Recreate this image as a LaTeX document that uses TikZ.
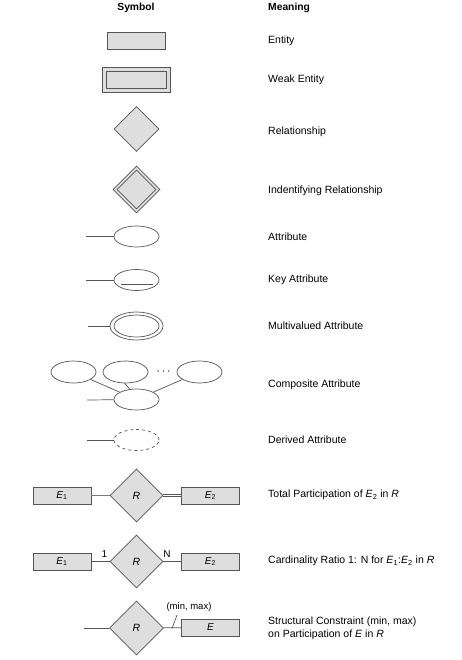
\documentclass[tikz,border=0pt]{standalone}
\usepackage{fontspec}
\setmainfont{Liberation Sans}
\usetikzlibrary{shapes.geometric}
\definecolor{fillgray}{RGB}{222,222,222}
\definecolor{strokegray}{RGB}{85,85,85}
\definecolor{linegray}{RGB}{120,120,120}
\tikzset{
  ent/.style={draw=strokegray, fill=fillgray, line width=0.9pt, minimum width=58pt, minimum height=17pt, inner sep=0pt, font=\fontsize{10}{12}\selectfont},
  rel/.style={diamond, draw=strokegray, fill=fillgray, line width=0.8pt, minimum width=#1, minimum height=#1, inner sep=0pt, font=\fontsize{10.5}{12}\selectfont},
  att/.style={ellipse, draw=strokegray, line width=0.7pt, minimum width=45pt, minimum height=21pt, inner sep=0pt},
  conn/.style={draw=strokegray, line width=0.7pt},
  meaning/.style={anchor=west, inner sep=0pt, font=\fontsize{10.5}{12.5}\selectfont, align=left},
  head/.style={inner sep=0pt, font=\fontsize{10.3}{12}\selectfont\bfseries}
}
\newcommand{\Ei}[1]{\textit{E}\textsubscript{#1}}
\begin{document}
\begin{tikzpicture}[x=1pt,y=-1pt]
\useasboundingbox (0,0) rectangle (461,660);
\fill[white] (0,0) rectangle (461,660);
% headers
\node[head] (hs) at (136,8) {Symbol};
\node[head, anchor=west] (hm) at (268,8) {Meaning};

% Entity
\node[ent] (e) at (136,40.5) {};
\node[meaning] (te) at (268,41) {Entity};

% Weak entity
\node[draw=strokegray, fill=fillgray, line width=0.8pt, minimum width=68pt, minimum height=25pt, inner sep=0pt] (we) at (136,79.5) {};
\node[draw=strokegray, fill=fillgray, line width=0.8pt, minimum width=60pt, minimum height=17pt, inner sep=0pt] (wei) at (136,79.5) {};
\node[meaning] (twe) at (268,80) {Weak Entity};

% Relationship
\node[rel=45pt] (r) at (136.5,129) {};
\node[meaning] (tr) at (268,132) {Relationship};

% Identifying relationship
\node[rel=47pt] (ir) at (136.5,189.5) {};
\node[rel=39pt] (iri) at (136.5,189.5) {};
\node[meaning] (tir) at (268,191) {Indentifying Relationship};

% Attribute
\node[att] (a) at (136.5,236.5) {};
\coordinate (a0) at (86,236.5);
\draw[conn] (a0) -- (a);
\node[meaning] (ta) at (268,237) {Attribute};

% Key attribute
\node[att] (ka) at (136.5,280) {};
\coordinate (ka0) at (86,280);
\draw[conn] (ka0) -- (ka);
\draw[conn] ([xshift=-16pt,yshift=-4pt]ka.center) -- ([xshift=16pt,yshift=-4pt]ka.center);
\node[meaning] (tka) at (268,280) {Key Attribute};

% Multivalued
\node[att, minimum width=53pt, minimum height=28pt] (ma) at (136.5,326) {};
\node[att, minimum width=45pt, minimum height=22pt] (mai) at (136.5,326) {};
\coordinate (ma0) at (88,326);
\draw[conn] (ma0) -- (ma);
\node[meaning] (tma) at (268,326) {Multivalued Attribute};

% Composite
\node[att, minimum height=22pt] (c1) at (73.5,372) {};
\node[att, minimum height=22pt] (c2) at (125.5,372) {};
\node[att, minimum height=22pt] (c3) at (199.5,372) {};
\node[inner sep=0pt, font=\fontsize{13}{14}\selectfont] (cd) at (163.5,372) {$\cdots$};
\node[att] (c) at (136.5,399.5) {};
\coordinate (c0) at (87,400);
\draw[conn] (c0) -- (c);
\draw[conn] (c1) -- (c);
\draw[conn] ([xshift=-1pt]c2.south) -- ([xshift=-7pt]c.north);
\draw[conn] (c3) -- (c);
\node[meaning] (tc) at (268,385) {Composite Attribute};

% Derived
\node[att, dashed] (da) at (136.5,440) {};
\coordinate (da0) at (87,440);
\draw[conn] (da0) -- (da);
\node[meaning] (tda) at (268,440) {Derived Attribute};

% Total participation
\node[ent] (tp1) at (62,495.5) {\Ei{1}};
\node[rel=53pt] (tpr) at (136.5,495.5) {\textit{R}};
\node[ent] (tp2) at (210.5,495.5) {\Ei{2}};
\draw[draw=linegray, line width=1.2pt] (tp1) -- (tpr);
\draw[draw=strokegray, line width=0.6pt, double=white, double distance=1.6pt] (tpr) -- (tp2);
\node[meaning] (ttp) at (268,495) {Total Participation of \Ei{2} in \textit{R}};

% Cardinality
\node[ent] (cr1) at (62,561.5) {\Ei{1}};
\node[rel=53pt] (crr) at (136.5,561.5) {\textit{R}};
\node[ent] (cr2) at (210.5,561.5) {\Ei{2}};
\draw[conn] (cr1) -- (crr);
\draw[conn] (crr) -- (cr2);
\node[inner sep=0pt, font=\fontsize{10}{12}\selectfont] (one) at (104.5,554) {1};
\node[inner sep=0pt, font=\fontsize{10}{12}\selectfont] (enn) at (167,554) {N};
\node[meaning] (tcr) at (268,561) {Cardinality Ratio 1: N for \Ei{1}:\Ei{2} in \textit{R}};

% Structural constraint
\node[rel=54pt] (sr) at (136.5,628) {\textit{R}};
\node[ent] (se) at (210.5,627.5) {\textit{E}};
\coordinate (s0) at (84,628);
\draw[conn] (s0) -- (sr);
\draw[conn] (sr) -- (se);
\node[inner sep=0pt, font=\fontsize{9.5}{12}\selectfont] (mm) at (189,607) {(min, max)};
\coordinate (t1) at (172,628.5);
\coordinate (t2) at (177,615);
\draw[conn] (t1) -- (t2);
\node[meaning] (tsc) at (268,628.5) {Structural Constraint (min, max)\\on Participation of \textit{E} in \textit{R}};
\end{tikzpicture}
\end{document}
